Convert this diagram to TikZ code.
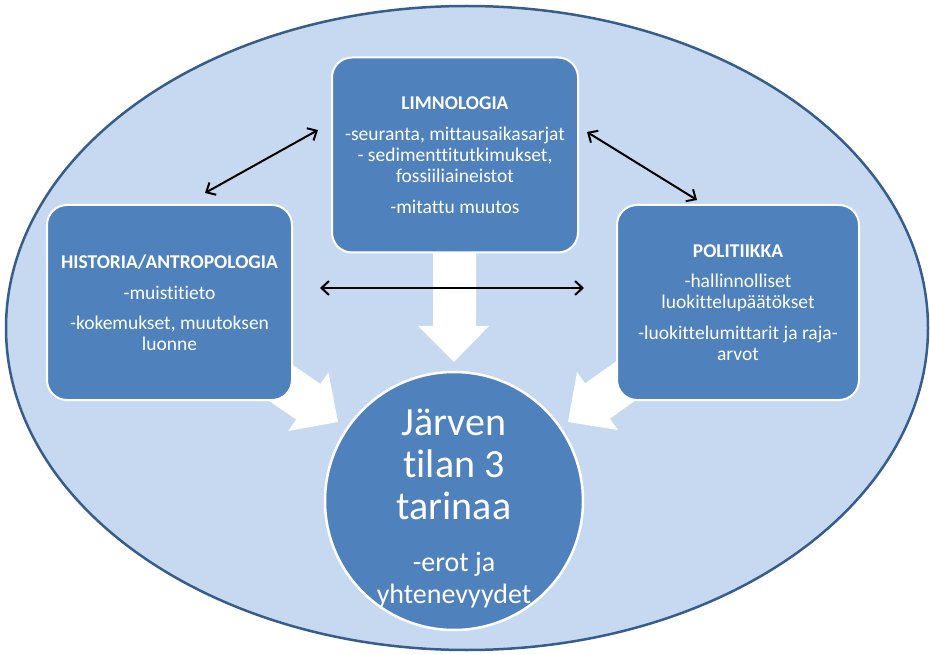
\documentclass[tikz,border=0pt]{standalone}
\usepackage{fontspec}
\setmainfont[Ligatures=NoCommon]{Carlito}
\usetikzlibrary{arrows.meta}
\definecolor{ellfill}{RGB}{198,217,241}
\definecolor{ellline}{RGB}{56,93,138}
\definecolor{boxblue}{RGB}{79,129,189}
\tikzset{
  box/.style={draw=white, line width=2pt, fill=boxblue, rounded corners=20pt,
    text=white, align=center, inner sep=0pt, minimum height=195pt,
    font=\fontsize{19.5}{21}\selectfont},
  blockarrow/.style={fill=white, draw=none},
  dbl/.style={black, line width=2pt, {Straight Barb[length=7.5pt,width=14pt]}-{Straight Barb[length=7.5pt,width=14pt]}}
}
\begin{document}
\begin{tikzpicture}[x=1pt,y=-1pt]
\useasboundingbox (0,0) rectangle (930,655);
% outer ellipse
\draw[fill=ellfill, draw=ellline, line width=2.5pt] (467,328) ellipse [x radius=461, y radius=322];
% block arrows (tails hidden behind boxes)
\fill[blockarrow] (433,240) -- (476,240) -- (476,326) -- (489,326) -- (454,362) -- (418,326) -- (433,326) -- cycle;
\fill[blockarrow] (254.2,338.7) -- (320.4,383.9) -- (328.4,372.4) -- (338,422) -- (288.2,431) -- (296.2,419.5) -- (229.9,374.3) -- cycle;
\fill[blockarrow] (650.3,337.0) -- (585.1,383.4) -- (577,372) -- (568,422) -- (618,430) -- (609.9,418.6) -- (675.1,372.2) -- cycle;
% boxes
\node[box, minimum width=246pt] (limn) at (455,155)
  {{\bfseries LIMNOLOGIA}\\[10pt]
   -seuranta, mittausaikasarjat\\
   - sedimenttitutkimukset,\\
   fossiiliaineistot\\[10pt]
   -mitattu muutos};
\node[box, minimum width=245pt] (hist) at (169.5,302.5)
  {{\bfseries HISTORIA/ANTROPOLOGIA}\\[10pt]
   -muistitieto\\[9pt]
   -kokemukset, muutoksen\\
   luonne};
\node[box, minimum width=242pt] (poli) at (738,302.5)
  {{\bfseries POLITIIKKA}\\[9pt]
   -hallinnolliset\\
   luokittelupäätökset\\[10pt]
   -luokittelumittarit ja raja-\\
   arvot};
\node[circle, draw=white, line width=2.5pt, fill=boxblue, minimum size=258pt, inner sep=0pt] (lake) at (454,501) {};
\node[text=white, align=center, inner sep=0pt, font=\fontsize{40}{42}\selectfont] (laketxt) at (454,508.5)
  {Järven\\ tilan 3\\ tarinaa\\[10pt]
   \fontsize{28}{29}\selectfont -erot ja\\[-10pt] \fontsize{28}{29}\selectfont yhtenevyydet};
% double-headed arrows
\coordinate (l1) at (205,193);
\coordinate (l2) at (318,130);
\coordinate (r1) at (587,132);
\coordinate (r2) at (697,200);
\coordinate (h1) at (320,288);
\coordinate (h2) at (584,288);
\draw[dbl] (l1) -- (l2);
\draw[dbl] (r1) -- (r2);
\draw[dbl] (h1) -- (h2);
\end{tikzpicture}
\end{document}
